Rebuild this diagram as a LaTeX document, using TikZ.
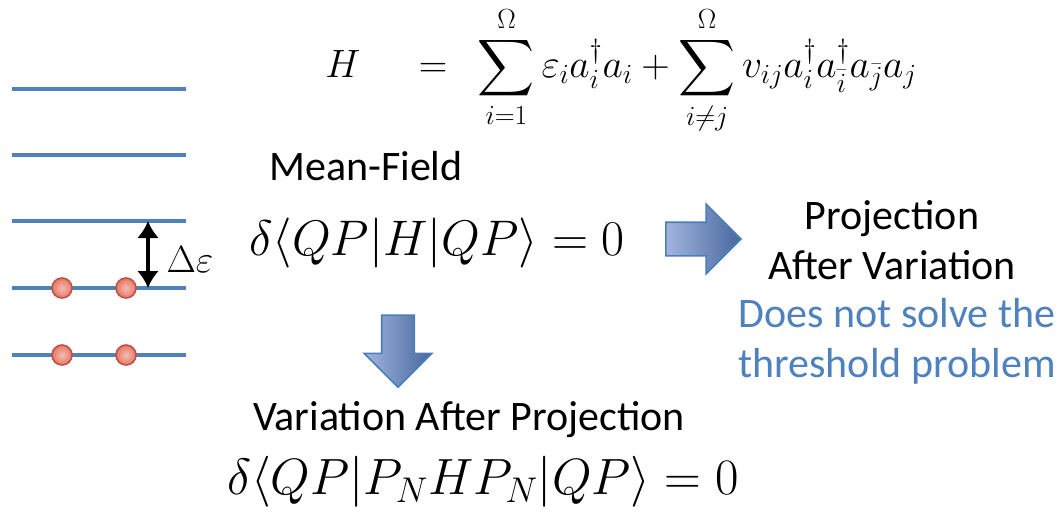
\documentclass[tikz,border=0pt]{standalone}
\usepackage{fix-cm}
\usepackage{amsmath,amssymb}
\usepackage{fontspec}
\setmainfont{Carlito}
\usepackage{tikz}
\usetikzlibrary{shapes.arrows, arrows.meta, positioning, calc}
\definecolor{LevelBlue}{HTML}{4F81BD}
\definecolor{BallFill}{HTML}{E57A62}
\definecolor{BallEdge}{HTML}{C0504D}
\definecolor{NoteBlue}{HTML}{4F81BD}
\definecolor{ArrowLight}{HTML}{A3B4DE}
\definecolor{ArrowDark}{HTML}{45689E}
\definecolor{ArrowEdge}{HTML}{4A7EBB}

\begin{document}
\begin{tikzpicture}[x=1pt, y=-1pt,
    level/.style={LevelBlue, line width=4pt},
    ball/.style={circle, draw=BallEdge, line width=1.6pt, inner color=BallFill!50!white,
                 outer color=BallFill, minimum size=20pt, inner sep=0pt},
    words/.style={font=\fontsize{42}{50}\selectfont, inner sep=0pt, align=center},
    eqn/.style={font=\fontsize{50}{60}\selectfont, inner sep=0pt},
    blockarrow/.style={single arrow, draw=ArrowEdge, line width=1.6pt,
                 left color=ArrowLight, right color=ArrowDark, inner sep=16pt,
                 single arrow head extend=18pt, minimum height=75pt, minimum width=68pt}]
    \useasboundingbox (0,0) rectangle (1062,512);

    % Single-particle levels
    \foreach \y [count=\k] in {89,155,221,288,355}
        \draw[level] (12,\y) coordinate (lev\k w) -- (186,\y) coordinate (lev\k e);

    % Occupied pairs
    \node[ball] (p1) at (62,288) {};
    \node[ball] (p2) at (126,288) {};
    \node[ball] (p3) at (62,355) {};
    \node[ball] (p4) at (126,355) {};

    % Gap
    \coordinate (gaptop) at (148,221);
    \coordinate (gapbot) at (148,288);
    \draw[{Latex[length=17pt,width=22pt]}-{Latex[length=17pt,width=22pt]}, line width=3.5pt]
        (gaptop) -- (gapbot);
    \node[eqn, font=\fontsize{38}{46}\selectfont] (gap) at (190,260) {$\Delta\varepsilon$};

    % Hamiltonian
    \node[eqn, font=\fontsize{39.5}{47}\selectfont] (ham) at (621,70)
        {$\displaystyle H \hspace{1.2em} = \hspace{0.5em} \sum_{i=1}^{\Omega}\varepsilon_i a_i^{\dagger} a_i
          + \sum_{i\neq j}^{\Omega} v_{ij} a_i^{\dagger} a_{\bar{i}}^{\dagger} a_{\bar{j}} a_j$};

    % Mean field
    \node[words] (mf) at (366,166) {Mean-Field};
    \node[eqn] (mfeq) at (437,243) {$\delta\langle QP|H|QP\rangle = 0$};

    % Projection after variation
    \node[blockarrow] (rarrow) at (695,239) {};
    \node[words] (pav) at (892,240) {Projection\\After Variation};
    \node[words, text=NoteBlue] (note) at (897,341) {Does not solve the\\threshold problem};

    % Variation after projection
    \node[blockarrow, rotate=-90, minimum height=72pt, minimum width=66pt,
          inner sep=15.5pt, single arrow head extend=17.5pt] (darrow) at (398,343) {};
    \node[words] (vap) at (469,420) {Variation After Projection};
    \node[eqn, font=\fontsize{51}{61}\selectfont] (vapeq) at (483,482) {$\delta\langle QP|P_N H P_N|QP\rangle = 0$};
\end{tikzpicture}
\end{document}
